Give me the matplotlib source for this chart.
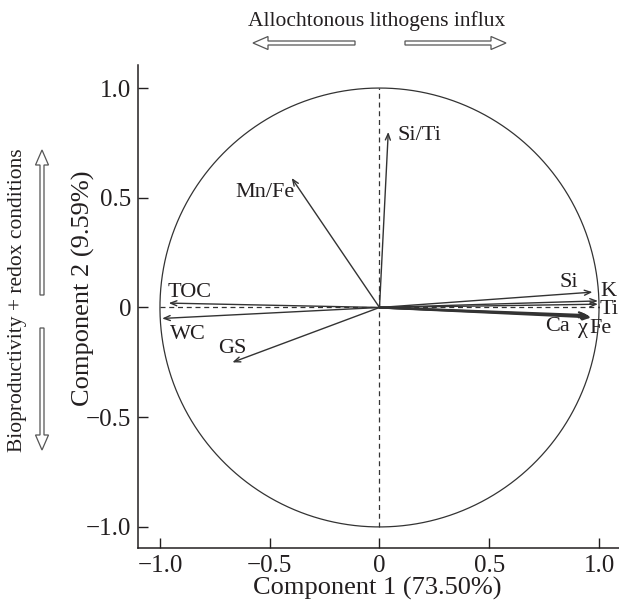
import numpy as np
import matplotlib
matplotlib.use("Agg")
import matplotlib.pyplot as plt
from matplotlib.patches import FancyArrow

# ---- data (loadings on components 1 and 2) ----
variables = ["Si/Ti", "Mn/Fe", "TOC", "WC", "GS", "Si", "K", "Ti", "Ca", "χ", "Fe"]
comp1 = [0.04, -0.40, -0.96, -0.99, -0.67, 0.97, 0.995, 0.995, 0.95, 0.96, 0.965]
comp2 = [0.80, 0.59, 0.02, -0.05, -0.25, 0.07, 0.03, 0.015, -0.035, -0.04, -0.045]
# label anchor positions (data units)
label_pos = {
    "Si/Ti": (0.08, 0.786, "left"),
    "Mn/Fe": (-0.385, 0.526, "right"),
    "TOC": (-0.967, 0.07, "left"),
    "WC": (-0.954, -0.125, "left"),
    "GS": (-0.736, -0.185, "left"),
    "Si": (0.822, 0.112, "left"),
    "K": (1.005, 0.071, "left"),
    "Ti": (1.003, -0.007, "left"),
    "Ca": (0.754, -0.088, "left"),
    "χ": (0.904, -0.095, "left"),
    "Fe": (0.955, -0.097, "left"),
}
xticks = [-1.0, -0.5, 0.0, 0.5, 1.0]
xticklabels = ["−1.0", "−0.5", "0", "0.5", "1.0"]
yticks = [-1.0, -0.5, 0.0, 0.5, 1.0]
yticklabels = ["−1.0", "−0.5", "0", "0.5", "1.0"]
xlabel = "Component 1 (73.50%)"
ylabel = "Component 2 (9.59%)"
top_text = "Allochtonous lithogens influx"
side_text = "Bioproductivity + redox conditions"

W, H = 619, 605
plt.rcParams["font.family"] = ["Liberation Serif", "DejaVu Serif"]
TXT = "#231f20"
LN = "#333333"

fig = plt.figure(figsize=(W / 100, H / 100), dpi=100)
fig.patch.set_facecolor("white")

ax = fig.add_axes([138 / W, 1 - 548 / H, 481 / W, 483 / H])
ax.set_xlim(-1.1, 1.091)
ax.set_ylim(-1.096, 1.105)
ax.patch.set_alpha(0)
for s in ["top", "right"]:
    ax.spines[s].set_visible(False)
for s in ["left", "bottom"]:
    ax.spines[s].set_color(TXT)
    ax.spines[s].set_linewidth(1.1)

ax.set_xticks(xticks)
ax.set_xticklabels(xticklabels)
ax.set_yticks(yticks)
ax.set_yticklabels(yticklabels)
ax.tick_params(direction="in", length=7, width=1.0, color=TXT,
               labelsize=18, labelcolor=TXT, pad=5)

# unit circle
t = np.linspace(0, 2 * np.pi, 400)
ax.plot(np.cos(t), np.sin(t), color=LN, lw=0.9)
# dashed reference lines
ax.plot([0, 0], [-1, 1], color=LN, lw=0.9, ls=(0, (4, 3)))
ax.plot([-1, 1], [0, 0], color=LN, lw=0.9, ls=(0, (4, 3)))

# loading arrows
for name, x, y in zip(variables, comp1, comp2):
    lw = 1.6 if name in ("Ca", "χ", "Fe") else 1.0
    ax.annotate("", xy=(x, y), xytext=(0, 0),
                arrowprops=dict(arrowstyle="->,head_length=0.45,head_width=0.18",
                                color=LN, lw=lw, shrinkA=0, shrinkB=0))
    lx, ly, ha = label_pos[name]
    ax.text(lx, ly, name, ha=ha, va="center", fontsize=16, color=TXT)

# overlay in pixel coordinates for outer annotations
ov = fig.add_axes([0, 0, 1, 1])
ov.set_xlim(0, W)
ov.set_ylim(H, 0)
ov.axis("off")
ov.patch.set_alpha(0)

def hollow(x0, y0, x1, y1):
    ov.add_patch(FancyArrow(x0, y0, x1 - x0, y1 - y0, width=4, head_width=13,
                            head_length=15, length_includes_head=True,
                            fc="white", ec="#555555", lw=0.9))

hollow(355, 43, 253, 43)
hollow(405, 43, 506, 43)
hollow(42, 295, 42, 150)
hollow(42, 328, 42, 450)

ov.text(377, 21, top_text, ha="center", va="center", fontsize=15.5, color=TXT)
ov.text(18, 300, side_text, ha="center", va="center", rotation=90,
        fontsize=15.5, color=TXT)
ov.text(377.5, 595, xlabel, ha="center", va="baseline", fontsize=19, color=TXT)
ov.text(83, 288, ylabel, ha="center", va="center", rotation=90, fontsize=19,
        color=TXT)

fig.savefig("out.png", dpi=100, facecolor="white")
